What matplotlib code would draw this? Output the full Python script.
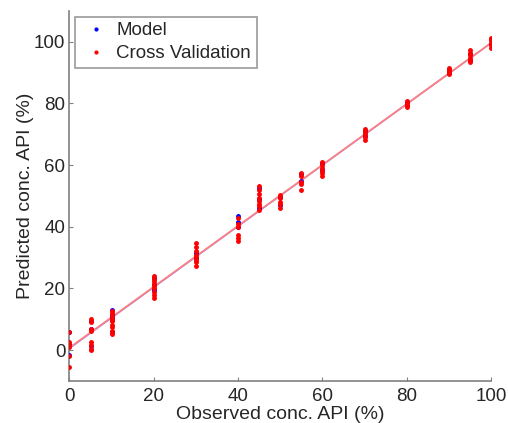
import numpy as np
import matplotlib
matplotlib.use('Agg')
import matplotlib.pyplot as plt

# observed concentrations (%)
conc = [0, 5, 10, 20, 30, 40, 45, 50, 55, 60, 70, 80, 90, 95, 100]

# predicted values, model (calibration)
model_pred = [
    [5.9, 2.0, -1.5],
    [9.5, 6.8, 1.2],
    [13.0, 11.5, 10.5, 9.8, 5.8],
    [23.5, 21.3, 19.5],
    [31.5, 29.9],
    [43.5, 41.5, 40.0],
    [52.5, 49.0, 46.2],
    [49.6, 47.0],
    [57.0, 55.0],
    [60.6, 58.5],
    [71.0, 69.5],
    [80.5, 79.5],
    [90.9, 89.8],
    [96.0, 94.0],
    [100.8, 99.2],
]

# predicted values, cross validation
cv_pred = [
    [5.9, 2.7, 1.6, 1.1, -1.9, -5.6],
    [10.1, 9.2, 7.0, 6.3, 2.7, 1.6, 0.5, 0.0],
    [12.6, 12.1, 11.0, 10.1, 9.5, 8.1, 7.6, 6.2, 5.3],
    [24.0, 23.2, 22.4, 21.6, 20.8, 20.0, 19.0, 18.0, 17.0],
    [34.9, 33.6, 32.3, 31.0, 30.2, 29.4, 28.6, 27.3],
    [42.8, 41.0, 39.8, 37.5, 36.4, 35.4],
    [53.2, 52.0, 50.5, 49.3, 48.4, 47.5, 46.6, 45.5],
    [50.2, 49.3, 48.2, 47.4, 46.2],
    [57.4, 56.5, 54.5, 53.9, 51.9],
    [61.0, 60.0, 59.1, 58.0, 57.3, 56.5],
    [71.7, 70.8, 70.0, 69.2, 68.2],
    [80.8, 80.2, 79.6, 79.0],
    [91.5, 90.8, 90.2, 89.5],
    [97.3, 96.5, 95.7, 94.9, 94.1, 93.5],
    [101.2, 100.5, 99.7, 98.9, 97.9],
]

# regression lines (slope, intercept)
model_fit = (0.99, 0.6)
cv_fit = (0.988, 0.8)


def flatten(xs, groups):
    x = [c for c, g in zip(xs, groups) for _ in g]
    y = [v for g in groups for v in g]
    return np.array(x, float), np.array(y, float)


mx, my = flatten(conc, model_pred)
cx, cy = flatten(conc, cv_pred)

plt.rcParams['font.family'] = ['Liberation Sans', 'DejaVu Sans']
fig = plt.figure(figsize=(5.08, 4.23), dpi=100)
ax = fig.add_axes([0.1368, 0.0993, 0.8297, 0.8747])

xl = np.array([0, 100])
ax.plot(xl, model_fit[0] * xl + model_fit[1], color='#8080ff', lw=1.1, zorder=1)
ax.plot(xl, cv_fit[0] * xl + cv_fit[1], color='#ff8080', lw=1.3, zorder=2)

ax.plot(mx, my, '.', color='blue', ms=5, label='Model', zorder=3)
ax.plot(cx, cy, '.', color='red', ms=5, label='Cross Validation', zorder=4)

ax.set_xlim(0, 100)
ax.set_ylim(-10, 110)
ax.set_xticks([0, 20, 40, 60, 80, 100])
ax.set_yticks([0, 20, 40, 60, 80, 100])
for s in ['top', 'right']:
    ax.spines[s].set_visible(False)
for s in ['left', 'bottom']:
    ax.spines[s].set_color('#808080')
    ax.spines[s].set_linewidth(1.2)
ax.tick_params(direction='in', length=3, color='#808080', labelsize=13.5,
               labelcolor='#262626')
ax.tick_params(axis='x', pad=5)
ax.tick_params(axis='y', pad=3)
ax.set_xlabel('Observed conc. API (%)', fontsize=14, color='#262626', labelpad=1)
ax.set_ylabel('Predicted conc. API (%)', fontsize=14, color='#262626', labelpad=0)

leg = ax.legend(loc='upper left', fontsize=13.5, frameon=True, fancybox=False,
                borderaxespad=0.3, handletextpad=0.3, markerscale=0.8,
                borderpad=0.3, labelspacing=0.3, handlelength=1.6)
leg.get_frame().set_edgecolor('#808080')
leg.get_frame().set_linewidth(1.2)
for t in leg.get_texts():
    t.set_color('#262626')

fig.savefig('out.png', dpi=100)
